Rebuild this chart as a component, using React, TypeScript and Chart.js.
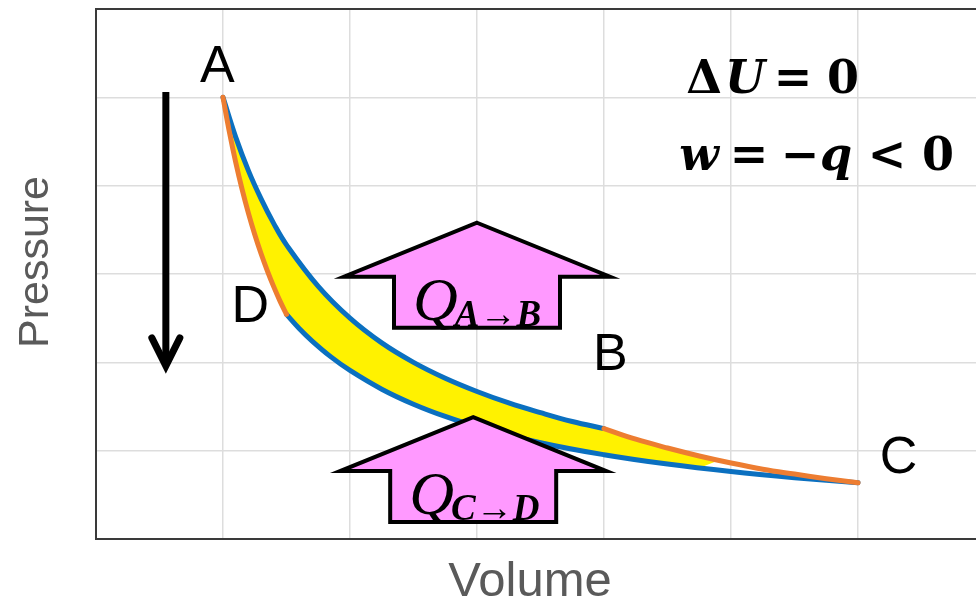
import React, { useEffect, useRef } from "react";
import { Chart, registerables } from "chart.js";

Chart.register(...registerables);

// ---- Data (Volume, Pressure) ----
// A -> B : hot isotherm (blue)
const isoHotV = [1.0, 1.1, 1.2, 1.3, 1.4, 1.5, 1.75, 2.0, 2.25, 2.5, 2.75, 3.0, 3.25, 3.5, 3.75, 4.0];
const isoHotP = [5.0, 4.55, 4.17, 3.85, 3.57, 3.33, 2.86, 2.5, 2.22, 2.0, 1.82, 1.67, 1.54, 1.43, 1.33, 1.25];
// B -> C : adiabatic expansion (orange)
const adiaBCV = [4.0, 4.25, 4.5, 4.75, 5.0, 5.25, 5.5, 5.75, 6.0];
const adiaBCP = [1.25, 1.13, 1.03, 0.94, 0.86, 0.79, 0.735, 0.683, 0.636];
// C -> D : cold isotherm (blue)
const isoColdV = [6.0, 5.5, 5.0, 4.5, 4.0, 3.5, 3.0, 2.75, 2.5, 2.25, 2.0, 1.85, 1.7, 1.6, 1.5];
const isoColdP = [0.636, 0.694, 0.763, 0.848, 0.954, 1.09, 1.272, 1.387, 1.526, 1.696, 1.908, 2.062, 2.244, 2.384, 2.543];
// D -> A : adiabatic compression (orange)
const adiaDAV = [1.5, 1.45, 1.4, 1.35, 1.3, 1.25, 1.2, 1.15, 1.1, 1.05, 1.0];
const adiaDAP = [2.543, 2.69, 2.854, 3.033, 3.229, 3.447, 3.69, 3.961, 4.266, 4.611, 5.0];
// Yellow region: enclosed area (painted up to about V = 4.9)
const fillV = [1.0, 1.1, 1.2, 1.3, 1.4, 1.5, 1.75, 2.0, 2.25, 2.5, 2.75, 3.0, 3.25, 3.5, 3.75, 4.0, 4.25, 4.5, 4.75, 4.9, 4.75, 4.5, 4.0, 3.5, 3.0, 2.75, 2.5, 2.25, 2.0, 1.85, 1.7, 1.6, 1.5, 1.45, 1.4, 1.35, 1.3, 1.25, 1.2, 1.15, 1.1, 1.05, 1.0];
const fillP = [5.0, 4.55, 4.17, 3.85, 3.57, 3.33, 2.86, 2.5, 2.22, 2.0, 1.82, 1.67, 1.54, 1.43, 1.33, 1.25, 1.13, 1.03, 0.94, 0.89, 0.803, 0.848, 0.954, 1.09, 1.272, 1.387, 1.526, 1.696, 1.908, 2.062, 2.244, 2.384, 2.543, 2.69, 2.854, 3.033, 3.229, 3.447, 3.69, 3.961, 4.266, 4.611, 5.0];

// Axis ranges and tick step
const xRange = [0, 7];
const yRange = [0, 6];
const tickStep = 1;

// Point labels (text, V, P of baseline centre)
const pointLabels = [
  { text: "A", v: 0.955, p: 5.17 },
  { text: "D", v: 1.215, p: 2.457 },
  { text: "B", v: 4.05, p: 1.913 },
  { text: "C", v: 6.32, p: 0.747 },
];

// Heat arrows (apex position in data units)
const heatArrows = [
  { v: 3.0, p: 3.58, from: "A", to: "B" },
  { v: 2.97, p: 1.38, from: "C", to: "D" },
];

const toXY = (vs: number[], ps: number[]) => vs.map((v, i) => ({ x: v, y: ps[i] }));

const BLUE = "#0B70C0";
const ORANGE = "#ED7D31";
const YELLOW = "#FFF200";
const PINK = "#FF99FF";

const overlay = {
  id: "overlay",
  beforeDatasetsDraw(chart: any) {
    const { ctx, chartArea } = chart;
    ctx.save();
    ctx.strokeStyle = "#3a3a3a";
    ctx.lineWidth = 2;
    ctx.beginPath();
    ctx.moveTo(chartArea.left - 1, chartArea.top);
    ctx.lineTo(chartArea.right + 1, chartArea.top);
    ctx.moveTo(chartArea.right, chartArea.top);
    ctx.lineTo(chartArea.right, chartArea.bottom);
    ctx.stroke();
    ctx.restore();
  },
  afterDatasetsDraw(chart: any) {
    const { ctx, chartArea } = chart;
    const xs = chart.scales.x;
    const ys = chart.scales.y;
    ctx.save();

    // vertical black arrow
    const ax = xs.getPixelForValue(0.55);
    const ay0 = ys.getPixelForValue(5.06);
    const ay1 = ys.getPixelForValue(1.96);
    ctx.strokeStyle = "#000";
    ctx.lineWidth = 7;
    ctx.lineCap = "butt";
    ctx.beginPath();
    ctx.moveTo(ax, ay0);
    ctx.lineTo(ax, ay1 - 3);
    ctx.stroke();
    ctx.lineCap = "round";
    ctx.lineJoin = "miter";
    ctx.beginPath();
    ctx.moveTo(ax - 14, ay1 - 28);
    ctx.lineTo(ax, ay1);
    ctx.lineTo(ax + 14, ay1 - 28);
    ctx.stroke();

    // pink heat arrows
    heatArrows.forEach((a) => {
      const cx = xs.getPixelForValue(a.v);
      const top = ys.getPixelForValue(a.p);
      const headHalf = 133;
      const headH = 54;
      const bodyHalf = 83;
      const bodyH = 51;
      ctx.beginPath();
      ctx.moveTo(cx, top);
      ctx.lineTo(cx + headHalf, top + headH);
      ctx.lineTo(cx + bodyHalf, top + headH);
      ctx.lineTo(cx + bodyHalf, top + headH + bodyH);
      ctx.lineTo(cx - bodyHalf, top + headH + bodyH);
      ctx.lineTo(cx - bodyHalf, top + headH);
      ctx.lineTo(cx - headHalf, top + headH);
      ctx.closePath();
      ctx.fillStyle = PINK;
      ctx.fill();
      ctx.lineWidth = 4;
      ctx.lineJoin = "miter";
      ctx.strokeStyle = "#000";
      ctx.stroke();

      ctx.fillStyle = "#000";
      ctx.textAlign = "left";
      ctx.textBaseline = "alphabetic";
      ctx.font = "italic 62px 'Liberation Serif'";
      ctx.fillText("Q", cx - 64, top + 97);
      const qw = ctx.measureText("Q").width;
      ctx.font = "italic bold 37px 'Liberation Serif'";
      ctx.fillText(a.from + "\u2192" + a.to, cx - 64 + qw - 3, top + 103);
    });

    // point labels
    ctx.fillStyle = "#000";
    ctx.font = "52px 'Liberation Sans'";
    ctx.textAlign = "center";
    pointLabels.forEach((l) => {
      ctx.fillText(l.text, xs.getPixelForValue(l.v), ys.getPixelForValue(l.p));
    });

    // equations
    const drawPieces = (pieces: [string, number, boolean][], base: number) => {
      pieces.forEach(([t, px, it]) => {
        ctx.font = (it ? "italic " : "") + "bold 46px 'DejaVu Serif'";
        ctx.textAlign = "center";
        ctx.fillText(t, chartArea.left + px, base);
      });
    };
    drawPieces(
      [
        ["\u0394", 608, false],
        ["U", 649, true],
        ["=", 697, false],
        ["0", 747, false],
      ],
      93
    );
    drawPieces(
      [
        ["w", 603, true],
        ["=", 653, false],
        ["\u2212", 704, false],
        ["q", 740, true],
        ["<", 791, false],
        ["0", 842, false],
      ],
      170
    );

    // axis titles
    ctx.fillStyle = "#5a5a5a";
    ctx.font = "49px 'Liberation Sans'";
    ctx.textAlign = "center";
    ctx.fillText("Volume", 530, 596);
    ctx.save();
    ctx.translate(48, 262);
    ctx.rotate(-Math.PI / 2);
    ctx.font = "43px 'Liberation Sans'";
    ctx.fillText("Pressure", 0, 0);
    ctx.restore();

    ctx.restore();
  },
};

export default function App() {
  const ref = useRef<HTMLCanvasElement | null>(null);
  useEffect(() => {
    document.body.style.margin = "0";
    document.body.style.overflow = "hidden";
    const canvas = ref.current!;
    const lineDs = (data: any, color: string, order: number) => ({
      data,
      borderColor: color,
      backgroundColor: color,
      borderWidth: 5,
      pointRadius: 0,
      tension: 0.4,
      borderCapStyle: "round",
      fill: false,
      showLine: true,
      order,
    });
    const chart = new Chart(canvas, {
      type: "scatter",
      data: {
        datasets: [
          lineDs(toXY(adiaDAV, adiaDAP), ORANGE, 1),
          lineDs(toXY(adiaBCV, adiaBCP), ORANGE, 1),
          lineDs(toXY(isoHotV, isoHotP), BLUE, 3),
          lineDs(toXY(isoColdV, isoColdP), BLUE, 3),
          {
            data: toXY(fillV, fillP),
            borderColor: YELLOW,
            backgroundColor: YELLOW,
            borderWidth: 0,
            pointRadius: 0,
            tension: 0,
            showLine: true,
            fill: "shape",
            order: 10,
          } as any,
        ] as any,
      },
      options: {
        animation: false,
        responsive: false,
        layout: { padding: { left: 96, top: 9, right: 5, bottom: 63 } },
        plugins: { legend: { display: false }, tooltip: { enabled: false } },
        scales: {
          x: {
            type: "linear",
            min: xRange[0],
            max: xRange[1],
            ticks: { display: false, stepSize: tickStep },
            grid: { color: "#dddddd", lineWidth: 1.5, drawTicks: false },
            border: { display: true, color: "#3a3a3a", width: 2 },
          },
          y: {
            type: "linear",
            min: yRange[0],
            max: yRange[1],
            ticks: { display: false, stepSize: tickStep },
            grid: { color: "#dddddd", lineWidth: 1.5, drawTicks: false },
            border: { display: true, color: "#3a3a3a", width: 2 },
          },
        },
      } as any,
      plugins: [overlay],
    });
    return () => chart.destroy();
  }, []);
  return (
    <div style={{ width: 990, height: 602, overflow: "hidden" }}>
      <canvas ref={ref} width={990} height={602} style={{ display: "block" }} />
    </div>
  );
}
